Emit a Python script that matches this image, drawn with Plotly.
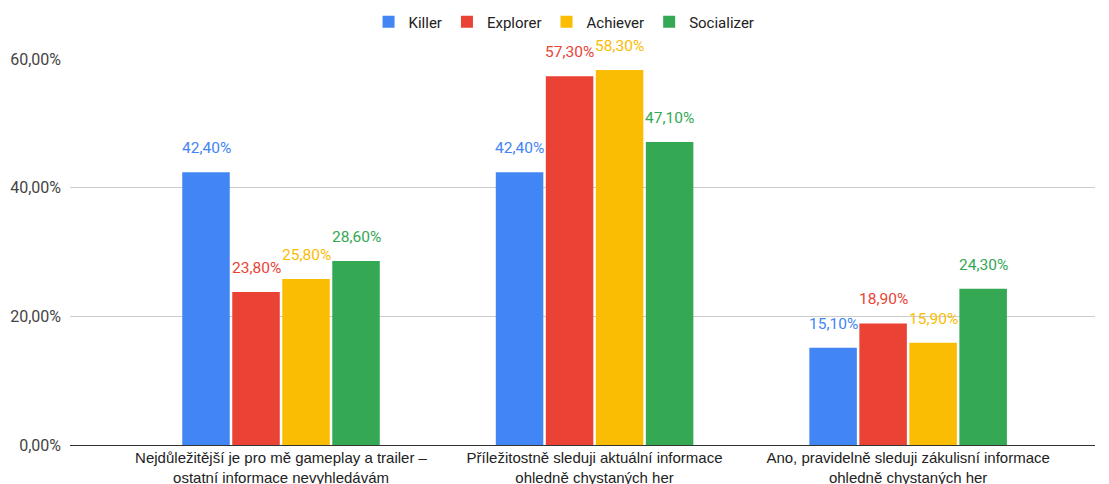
import plotly.graph_objects as go

categories = [
    "Nejdůležitější je pro mě gameplay a trailer –<br>ostatní informace nevyhledávám",
    "Příležitostně sleduji aktuální informace<br>ohledně chystaných her",
    "Ano, pravidelně sleduji zákulisní informace<br>ohledně chystaných her",
]
series_names = ["Killer", "Explorer", "Achiever", "Socializer"]
killer = [42.4, 42.4, 15.1]
explorer = [23.8, 57.3, 18.9]
achiever = [25.8, 58.3, 15.9]
socializer = [28.6, 47.1, 24.3]
colors = ["#4285F4", "#EA4335", "#FBBC04", "#34A853"]
y_ticks = [0, 20, 40, 60]
y_tick_text = ["0,00%", "20,00%", "40,00%", "60,00%"]

BAR_GAP = 0.362
x_pos = [0, 1, 2]
all_series = [killer, explorer, achiever, socializer]
n_series = len(all_series)
slot = (1 - BAR_GAP) / n_series

fig = go.Figure()
annotations = []
for i, (name, vals, col) in enumerate(zip(series_names, all_series, colors)):
    fig.add_trace(go.Bar(
        name=name, x=x_pos, y=vals,
        marker=dict(color=col, line=dict(width=0)),
    ))
    # value labels centred over each bar of the group
    offset = (i - (n_series - 1) / 2) * slot
    for xp, v in zip(x_pos, vals):
        annotations.append(dict(
            x=xp + offset, y=v, xref="x", yref="y",
            text=f"{v:.2f}%".replace(".", ","),
            showarrow=False, yanchor="middle", yshift=24,
            font=dict(color=col, size=15.5, family="Roboto"),
        ))

fig.update_layout(
    width=1109, height=484,
    margin=dict(l=70, r=14, t=59, b=39, autoexpand=False),
    paper_bgcolor="white", plot_bgcolor="white",
    barmode="group", bargap=BAR_GAP, bargroupgap=0.05,
    font=dict(family="Roboto", size=14, color="#222222"),
    legend=dict(orientation="h", x=0.482, xanchor="center", y=1 - 22 / 484, yanchor="middle",
                yref="container", font=dict(size=15, color="#222222"),
                bgcolor="rgba(0,0,0,0)", itemwidth=30, itemsizing="constant",
                tracegroupgap=0),
    xaxis=dict(tickmode="array", tickvals=x_pos, ticktext=categories,
               range=[-0.673, 2.596], showgrid=False, showline=False, ticks="",
               ticklabelstandoff=2,
               tickfont=dict(size=15, color="#222222", family="Liberation Sans, Arial")),
    yaxis=dict(range=[0, 60], tickmode="array", tickvals=y_ticks, ticktext=y_tick_text,
               showgrid=True, gridcolor="#cccccc", zeroline=True, zerolinecolor="#333333",
               zerolinewidth=1, tickfont=dict(size=16, color="#444444"), ticklabelstandoff=8),
    annotations=annotations,
)
fig.write_html("out.html")
